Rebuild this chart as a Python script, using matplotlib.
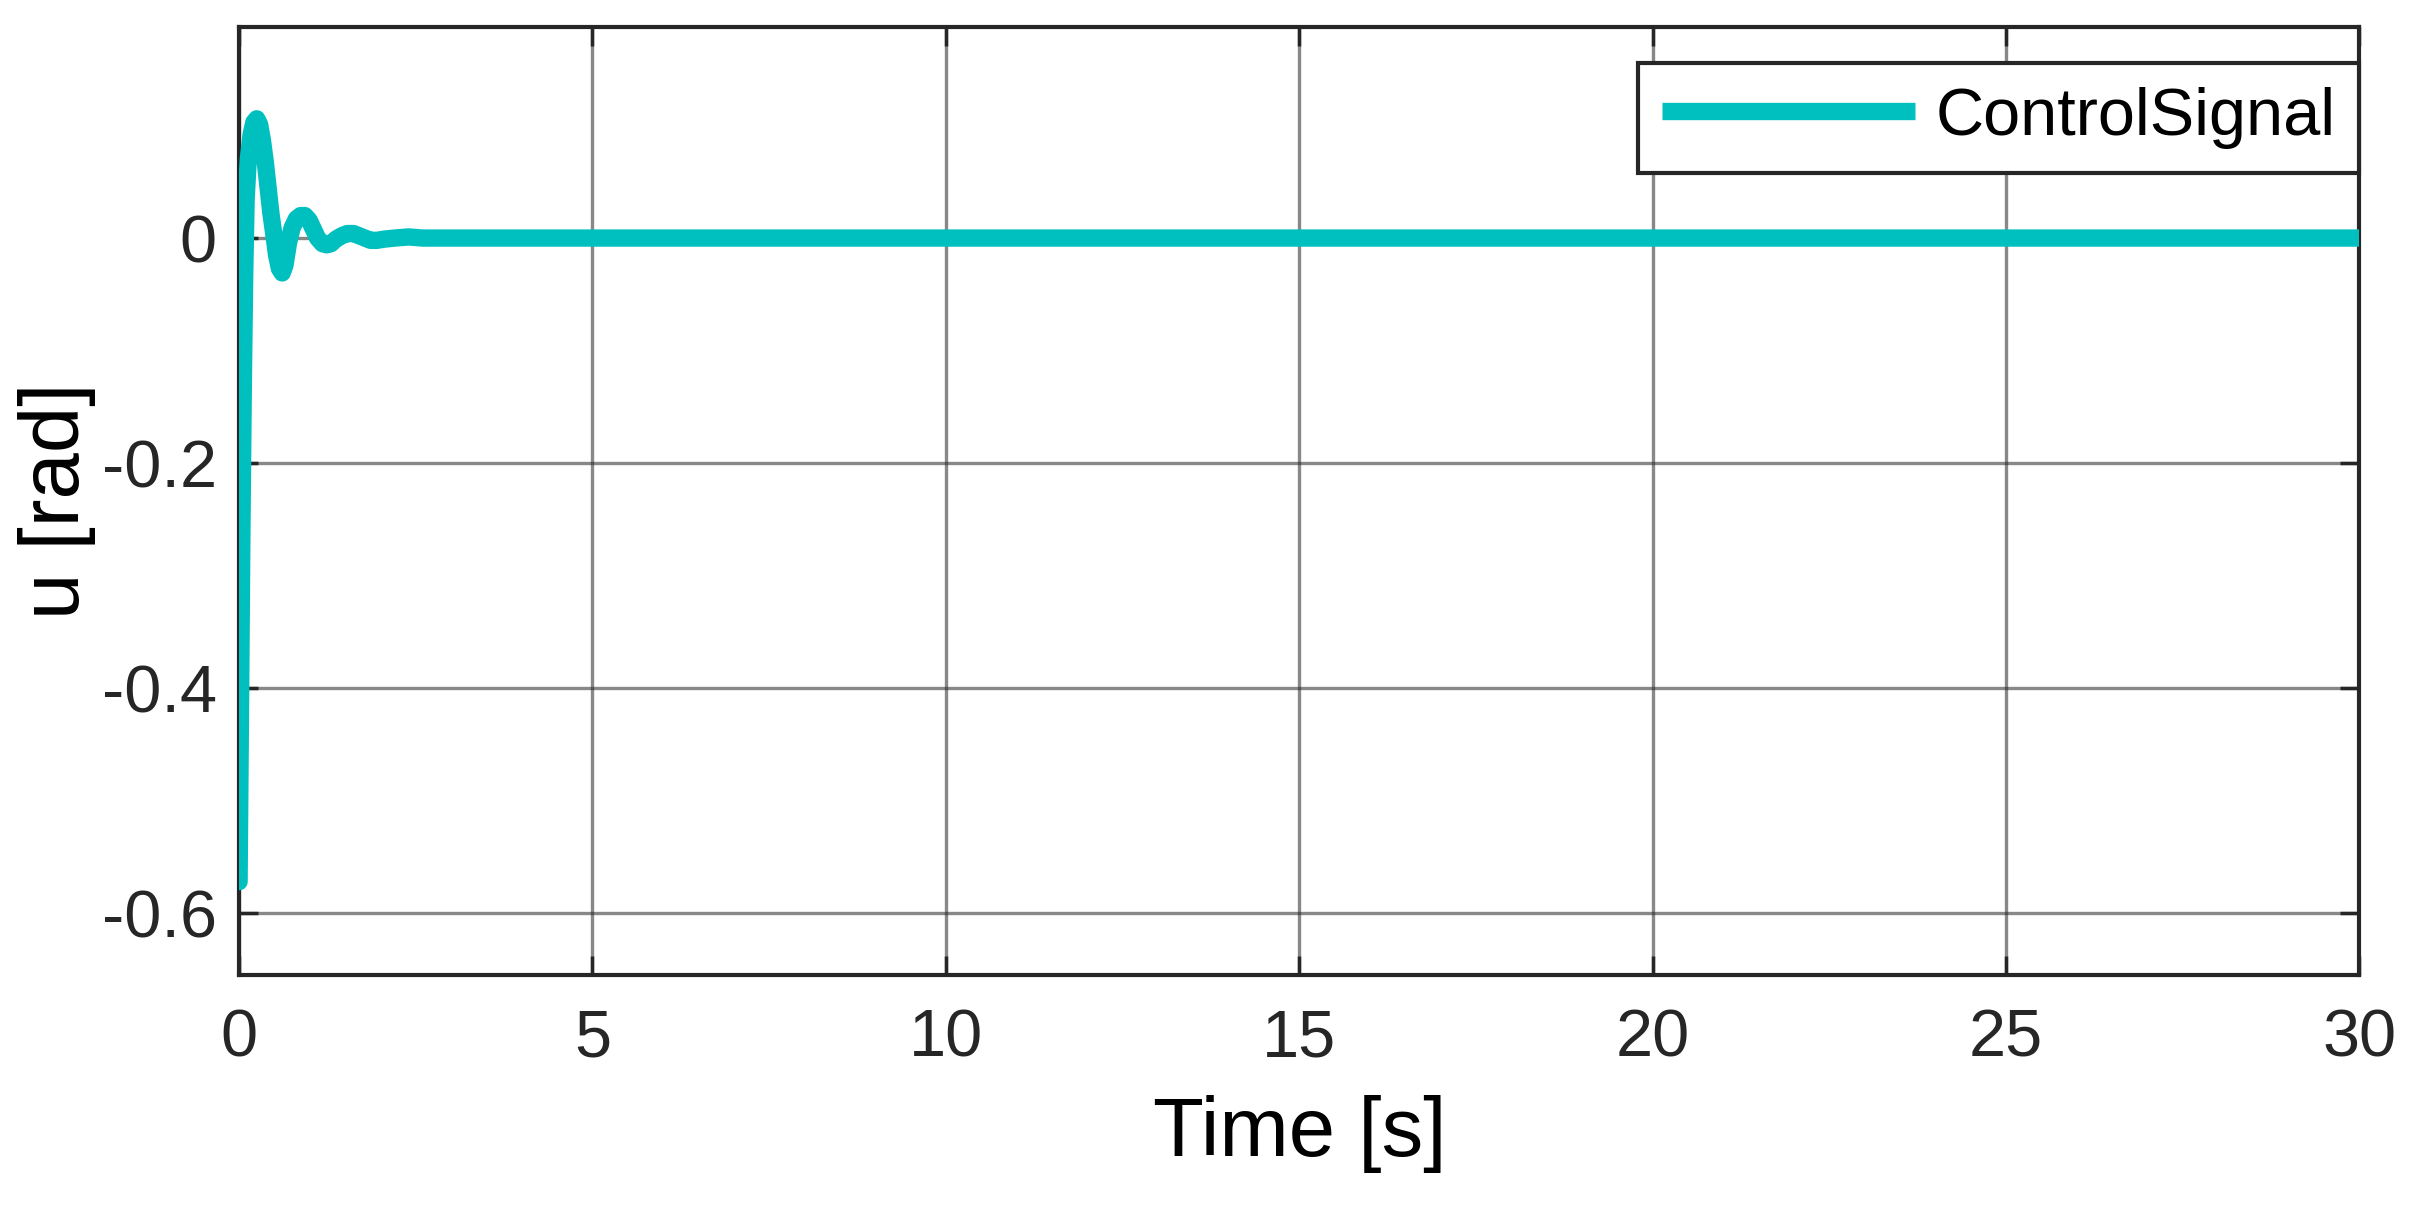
import matplotlib
matplotlib.use("Agg")
import matplotlib.pyplot as plt
from matplotlib import font_manager

time_s = [0.00, 0.02, 0.04, 0.06, 0.08, 0.10, 0.13, 0.17, 0.21, 0.25, 0.29, 0.33,
          0.37, 0.41, 0.45, 0.49, 0.53, 0.57, 0.61, 0.65, 0.70, 0.75, 0.81, 0.87,
          0.93, 0.99, 1.05, 1.11, 1.18, 1.24, 1.30, 1.37, 1.45, 1.53, 1.62, 1.70,
          1.78, 1.86, 1.95, 2.05, 2.20, 2.40, 2.60, 30.0]
control_u = [-0.572, -0.42, -0.26, -0.13, -0.03, 0.035, 0.07, 0.092, 0.103, 0.106, 0.101, 0.087,
             0.068, 0.045, 0.022, 0.004, -0.015, -0.027, -0.031, -0.024, -0.004, 0.009, 0.017, 0.020,
             0.020, 0.016, 0.008, 0.000, -0.005, -0.006, -0.005, -0.001, 0.002, 0.004, 0.004, 0.002,
             0.000, -0.002, -0.002, -0.001, 0.000, 0.001, 0.000, 0.000]
x_ticks = [0, 5, 10, 15, 20, 25, 30]
y_ticks = [-0.6, -0.4, -0.2, 0]
y_tick_labels = ["-0.6", "-0.4", "-0.2", "0"]
series_name = "ControlSignal"

names = {f.name for f in font_manager.fontManager.ttflist}
fam = "Liberation Sans" if "Liberation Sans" in names else "DejaVu Sans"
plt.rcParams['font.family'] = [fam, 'DejaVu Sans']

fig = plt.figure(figsize=(24.15, 12.06), dpi=100)
ax = fig.add_axes([0.099, 0.1915, 0.878, 0.7865])

ax.plot(time_s, control_u, color="#00BFBF", lw=12.5, solid_capstyle="round",
        solid_joinstyle="round", label=series_name, zorder=3)

ax.set_xlim(0, 30)
ax.set_ylim(-0.655, 0.188)
ax.set_xticks(x_ticks)
ax.set_yticks(y_ticks)
ax.set_yticklabels(y_tick_labels)
ax.grid(True, color="#262626", alpha=0.55, lw=2.4)
ax.tick_params(direction="in", length=14, width=2.5, colors="#262626",
               labelsize=48, top=True, right=True, labelcolor="#262626")
ax.tick_params(axis="x", pad=24)
ax.tick_params(axis="y", pad=16)
for s in ax.spines.values():
    s.set_linewidth(3)
    s.set_color("#262626")

ax.set_xlabel("Time [s]", fontsize=60, labelpad=18)
ax.set_ylabel("u [rad]", fontsize=60, labelpad=4)

leg = ax.legend(loc="upper right", bbox_to_anchor=(1.0, 1 - 36 / 947), borderaxespad=0,
                fontsize=48, fancybox=False, framealpha=1, edgecolor="#262626",
                handlelength=3.8, handletextpad=0.3, borderpad=0.36)
leg.get_frame().set_linewidth(3)
for ln in leg.get_lines():
    ln.set_solid_capstyle("butt")

fig.savefig("out.png", dpi=100)
